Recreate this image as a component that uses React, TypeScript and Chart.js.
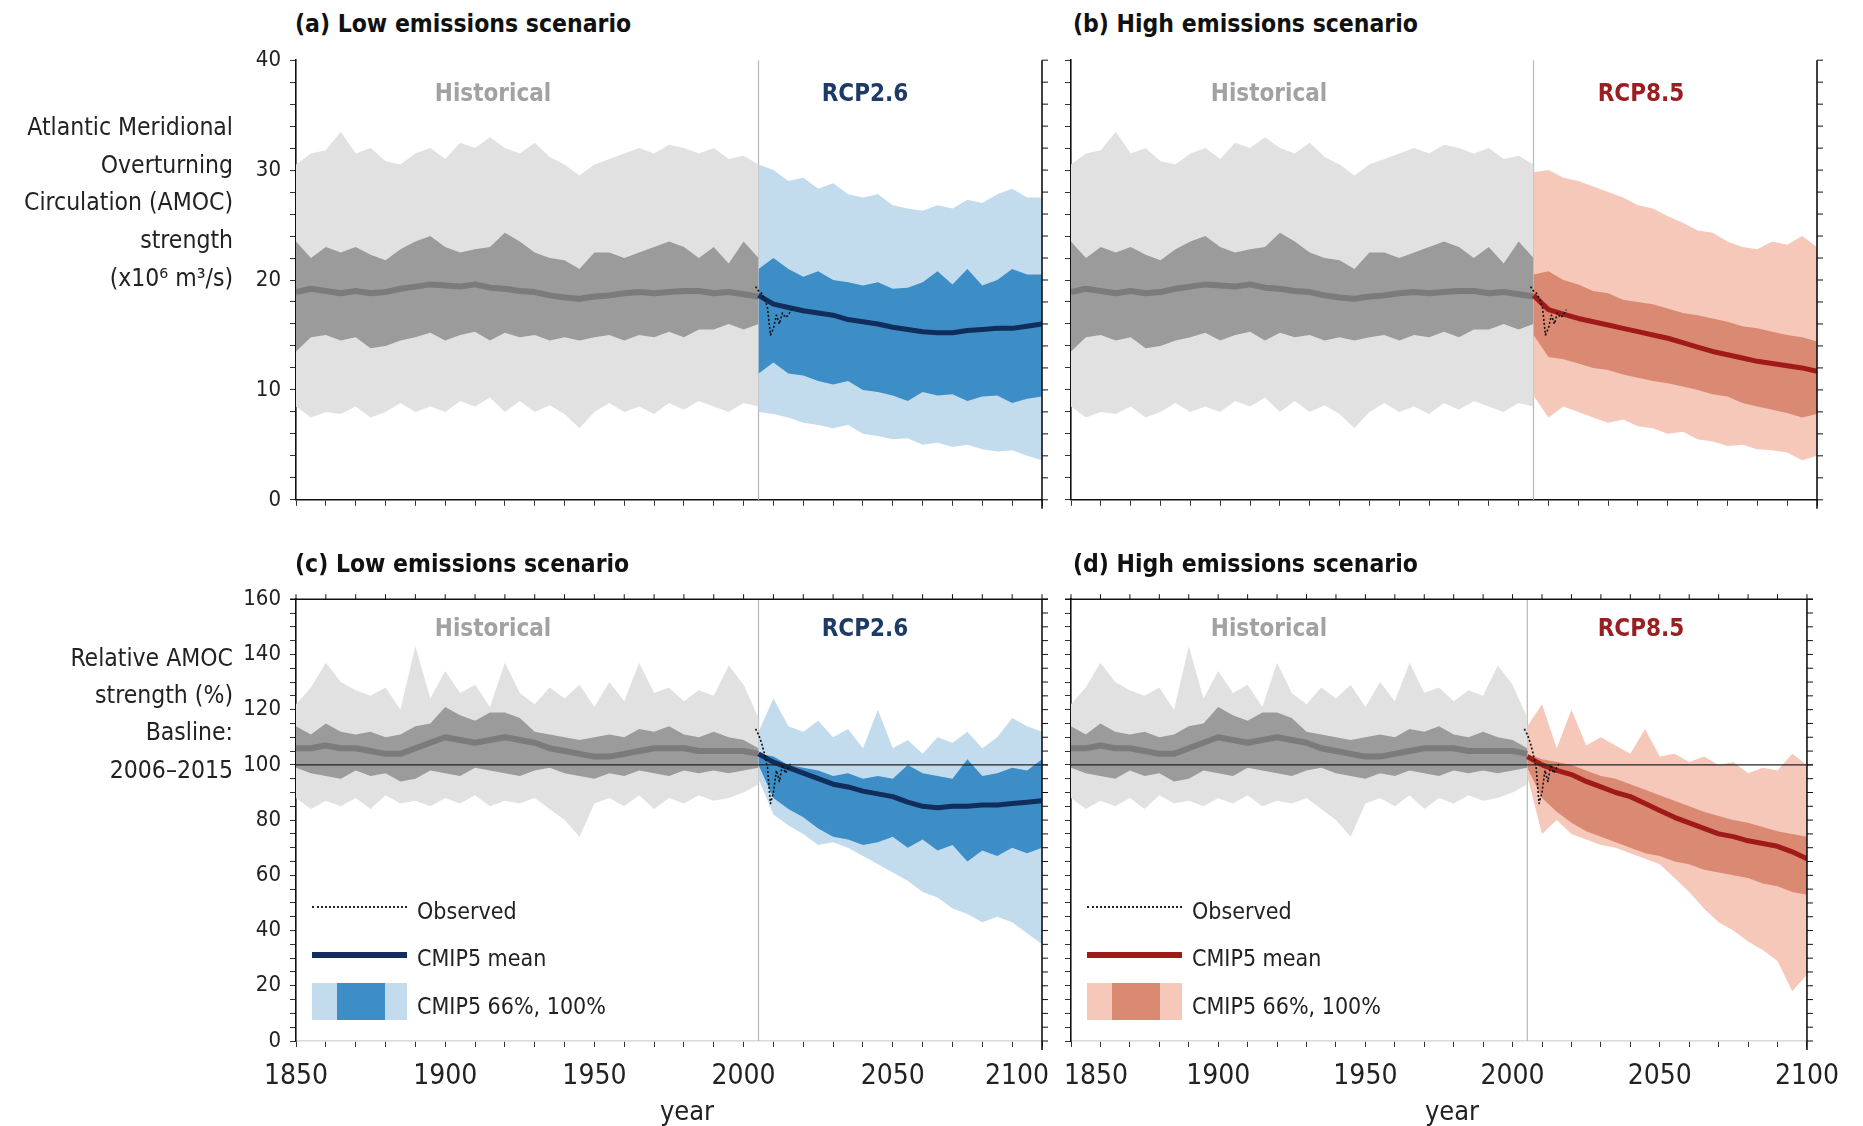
import React, { useEffect, useRef } from "react";
import { Chart, registerables } from "chart.js";
Chart.register(...registerables);

const FONT = '"Liberation Sans Narrow", "Arial Narrow", "DejaVu Sans Condensed", "Liberation Sans", sans-serif';

// ---------------- categories ----------------
const histYears = [1850, 1855, 1860, 1865, 1870, 1875, 1880, 1885, 1890, 1895, 1900, 1905, 1910, 1915, 1920, 1925, 1930, 1935, 1940, 1945, 1950, 1955, 1960, 1965, 1970, 1975, 1980, 1985, 1990, 1995, 2000, 2005];
const futYears = [2005, 2010, 2015, 2020, 2025, 2030, 2035, 2040, 2045, 2050, 2055, 2060, 2065, 2070, 2075, 2080, 2085, 2090, 2095, 2100];
const obsYears = [2004, 2005, 2006, 2007, 2008, 2009, 2010, 2011, 2012, 2013, 2014, 2015, 2016];
const xTickLabels = [1850, 1900, 1950, 2000, 2050, 2100];

// ---------------- historical, absolute (Sv) ----------------
const histAbsOuterHi = [30.5, 31.5, 31.8, 33.5, 31.5, 32.0, 30.8, 30.5, 31.5, 32.0, 31.0, 32.5, 32.0, 33.0, 32.0, 31.5, 32.5, 31.2, 30.5, 29.5, 30.5, 31.0, 31.5, 32.0, 31.5, 32.3, 32.0, 31.5, 32.0, 31.0, 31.3, 30.5];
const histAbsOuterLo = [8.5, 7.5, 8.0, 7.8, 8.5, 7.5, 8.0, 8.8, 8.0, 8.5, 8.0, 9.0, 8.5, 9.3, 8.0, 9.0, 8.0, 8.6, 7.8, 6.5, 8.0, 8.8, 8.0, 8.5, 7.8, 8.8, 8.2, 9.0, 8.5, 8.0, 8.8, 8.5];
const histAbsInnerHi = [23.5, 22.0, 23.0, 22.5, 23.0, 22.3, 21.8, 22.8, 23.5, 24.0, 23.0, 22.5, 22.8, 23.0, 24.3, 23.5, 22.5, 22.0, 21.8, 21.0, 22.5, 22.5, 22.0, 22.5, 23.0, 23.5, 23.0, 22.0, 23.0, 21.5, 23.5, 22.0];
const histAbsInnerLo = [13.5, 14.8, 15.0, 14.5, 14.8, 13.8, 14.0, 14.5, 14.8, 15.2, 14.5, 15.0, 15.3, 14.5, 15.2, 14.8, 15.0, 14.5, 14.8, 14.5, 14.8, 15.0, 14.5, 15.0, 14.8, 15.3, 14.8, 15.5, 15.5, 16.0, 15.5, 16.0];
const histAbsMean = [18.9, 19.2, 19.0, 18.8, 19.0, 18.8, 18.9, 19.2, 19.4, 19.6, 19.5, 19.4, 19.6, 19.3, 19.2, 19.0, 18.9, 18.6, 18.4, 18.3, 18.5, 18.6, 18.8, 18.9, 18.8, 18.9, 19.0, 19.0, 18.8, 18.9, 18.7, 18.5];

// ---------------- RCP2.6, absolute ----------------
const r26AbsOuterHi = [30.5, 30.0, 29.0, 29.3, 28.3, 28.8, 27.8, 27.5, 27.8, 26.8, 26.5, 26.3, 26.8, 26.5, 27.3, 27.0, 27.8, 28.3, 27.5, 27.5];
const r26AbsOuterLo = [8.0, 7.8, 7.5, 7.0, 6.8, 6.5, 6.8, 6.0, 5.8, 5.5, 5.6, 5.0, 5.2, 4.8, 5.0, 4.6, 4.4, 4.5, 4.0, 3.6];
const r26AbsInnerHi = [21.0, 22.0, 21.0, 20.3, 20.8, 20.0, 19.8, 19.5, 19.8, 19.2, 19.3, 19.8, 20.8, 19.6, 21.0, 19.5, 20.0, 21.0, 20.5, 20.5];
const r26AbsInnerLo = [11.5, 12.5, 11.5, 11.3, 10.8, 10.5, 10.8, 10.0, 9.8, 9.5, 9.0, 9.8, 9.5, 9.6, 9.0, 9.4, 9.5, 8.8, 9.2, 9.4];
const r26AbsMean = [18.6, 17.8, 17.5, 17.2, 17.0, 16.8, 16.4, 16.2, 16.0, 15.7, 15.5, 15.3, 15.2, 15.2, 15.4, 15.5, 15.6, 15.6, 15.8, 16.0];

// ---------------- RCP8.5, absolute ----------------
const r85AbsOuterHi = [29.8, 30.0, 29.3, 29.0, 28.5, 28.0, 27.5, 26.8, 26.5, 25.8, 25.2, 24.5, 24.3, 23.5, 23.0, 22.8, 23.5, 23.2, 24.0, 23.0];
const r85AbsOuterLo = [9.5, 7.5, 8.5, 8.0, 7.5, 7.0, 7.3, 6.7, 6.5, 6.0, 6.2, 5.5, 5.3, 4.9, 5.0, 4.6, 4.5, 4.3, 3.6, 4.0];
const r85AbsInnerHi = [20.5, 20.8, 20.0, 19.6, 19.0, 18.8, 18.2, 18.0, 17.8, 17.4, 17.0, 16.8, 16.5, 16.2, 15.8, 15.6, 15.3, 15.0, 14.8, 14.4];
const r85AbsInnerLo = [15.0, 13.0, 12.8, 12.4, 12.0, 11.8, 11.4, 11.1, 10.8, 10.6, 10.3, 10.0, 9.6, 9.4, 8.8, 8.5, 8.2, 7.9, 7.5, 7.8];
const r85AbsMean = [18.6, 17.3, 16.9, 16.5, 16.2, 15.9, 15.6, 15.3, 15.0, 14.7, 14.3, 13.9, 13.5, 13.2, 12.9, 12.6, 12.4, 12.2, 12.0, 11.7];

// ---------------- historical, relative (%) ----------------
const histRelOuterHi = [122, 128, 137, 130, 127, 125, 128, 120, 143, 124, 134, 126, 129, 121, 137, 126, 122, 128, 124, 129, 121, 130, 123, 137, 126, 128, 123, 127, 125, 136, 129, 117];
const histRelOuterLo = [88, 84, 87, 85, 88, 84, 89, 86, 87, 85, 88, 86, 89, 85, 87, 86, 88, 84, 80, 74, 86, 88, 85, 89, 84, 88, 86, 89, 87, 88, 90, 93];
const histRelInnerHi = [114, 111, 115, 112, 111, 112, 110, 111, 114, 115, 121, 118, 116, 119, 119, 117, 112, 111, 110, 109, 110, 111, 110, 113, 112, 114, 111, 110, 112, 110, 109, 106];
const histRelInnerLo = [99, 97, 96, 95, 98, 96, 97, 94, 95, 98, 97, 96, 99, 98, 97, 96, 98, 99, 97, 96, 95, 97, 96, 98, 97, 96, 98, 97, 98, 97, 98, 99];
const histRelMean = [106, 106, 107, 106, 106, 105, 104, 104, 106, 108, 110, 109, 108, 109, 110, 109, 108, 106, 105, 104, 103, 103, 104, 105, 106, 106, 106, 105, 105, 105, 105, 104];

// ---------------- RCP2.6, relative ----------------
const r26RelOuterHi = [112, 124, 114, 112, 116, 110, 113, 106, 120, 106, 109, 104, 110, 108, 112, 106, 110, 117, 114, 112];
const r26RelOuterLo = [95, 82, 78, 75, 71, 72, 70, 67, 64, 61, 58, 54, 52, 48, 46, 43, 45, 43, 39, 35];
const r26RelInnerHi = [104, 103, 100, 99, 98, 96, 97, 95, 96, 95, 100, 97, 96, 95, 102, 96, 97, 99, 98, 102];
const r26RelInnerLo = [100, 88, 84, 81, 77, 74, 73, 71, 72, 74, 70, 73, 69, 71, 65, 69, 67, 70, 68, 70];
const r26RelMean = [104, 101, 99, 97, 95, 93, 92, 90.5, 89.5, 88.5, 86.5, 85, 84.5, 85, 85, 85.5, 85.5, 86, 86.5, 87];

// ---------------- RCP8.5, relative ----------------
const r85RelOuterHi = [114, 122, 106, 120, 107, 110, 107, 104, 113, 103, 104, 101, 103, 100, 101, 97, 99, 98, 104, 100];
const r85RelOuterLo = [96, 75, 80, 75, 73, 71, 70, 68, 66, 64, 59, 54, 48, 43, 40, 36, 33, 29, 18, 24];
const r85RelInnerHi = [104, 102, 101, 100, 98, 96, 95, 93, 91, 89, 87, 85, 83, 81.5, 80, 79, 77.5, 76, 75, 74];
const r85RelInnerLo = [99, 88, 83, 79, 76, 74, 72, 70, 68, 67, 65, 64, 62, 61, 60, 59, 57, 56, 54, 53];
const r85RelMean = [103, 100, 98, 96.5, 94, 92, 90, 88.5, 86, 83.5, 81, 79, 77, 75, 74, 72.5, 71.5, 70.5, 68.5, 66];

// ---------------- observed ----------------
const obsAbs = [19.4, 19.0, 18.8, 18.3, 17.5, 15.0, 15.6, 16.8, 16.0, 17.0, 16.6, 16.8, 17.3];
const obsRel = [113, 111, 108, 104, 99, 86, 90, 98, 94, 100, 97, 99, 101];

const SPLIT_YEAR = 2005;

const C = {
  histOuter: "#e1e1e1",
  histInner: "#9b9b9b",
  histMean: "#7b7b7b",
  r26Outer: "#c2dcee",
  r26Inner: "#3d8dc6",
  r26Mean: "#102d5c",
  r85Outer: "#f6c8ba",
  r85Inner: "#da8a73",
  r85Mean: "#a11a1a",
  r26Text: "#1e3a66",
  r85Text: "#9a1f22",
  histText: "#a2a2a2",
};

type Band = { outerLo: number[]; outerHi: number[]; innerLo: number[]; innerHi: number[]; mean: number[] };

interface PanelSpec {
  id: string;
  left: number; right: number; top: number; bottom: number;
  yMin: number; yMax: number; yStep: number; yMajor: number;
  showYLabels: boolean; showXLabels: boolean;
  hist: Band; fut: Band; obs: number[];
  futOuter: string; futInner: string; futMean: string;
  refLine: number | null;
  topLine: boolean;
  bottomBorder: string;
  edge: { value: number; shift: number } | null;
}

const HIST_ABS: Band = { outerLo: histAbsOuterLo, outerHi: histAbsOuterHi, innerLo: histAbsInnerLo, innerHi: histAbsInnerHi, mean: histAbsMean };
const HIST_REL: Band = { outerLo: histRelOuterLo, outerHi: histRelOuterHi, innerLo: histRelInnerLo, innerHi: histRelInnerHi, mean: histRelMean };
const R26_ABS: Band = { outerLo: r26AbsOuterLo, outerHi: r26AbsOuterHi, innerLo: r26AbsInnerLo, innerHi: r26AbsInnerHi, mean: r26AbsMean };
const R85_ABS: Band = { outerLo: r85AbsOuterLo, outerHi: r85AbsOuterHi, innerLo: r85AbsInnerLo, innerHi: r85AbsInnerHi, mean: r85AbsMean };
const R26_REL: Band = { outerLo: r26RelOuterLo, outerHi: r26RelOuterHi, innerLo: r26RelInnerLo, innerHi: r26RelInnerHi, mean: r26RelMean };
const R85_REL: Band = { outerLo: r85RelOuterLo, outerHi: r85RelOuterHi, innerLo: r85RelInnerLo, innerHi: r85RelInnerHi, mean: r85RelMean };

const LX = [296, 1042];
const RX = [1071, 1817];
const TY = [53, 502];
const BY = [592, 1041];

const PANELS: PanelSpec[] = [
  { id: "a", left: LX[0], right: LX[1], top: TY[0], bottom: TY[1], yMin: 0, yMax: 40, yStep: 2, yMajor: 10, showYLabels: true, showXLabels: false, hist: HIST_ABS, fut: R26_ABS, obs: obsAbs, futOuter: C.r26Outer, futInner: C.r26Inner, futMean: C.r26Mean, refLine: null, topLine: false, bottomBorder: "#111", edge: null },
  { id: "b", left: RX[0], right: RX[1], top: TY[0], bottom: TY[1], yMin: 0, yMax: 40, yStep: 2, yMajor: 10, showYLabels: false, showXLabels: false, hist: HIST_ABS, fut: R85_ABS, obs: obsAbs, futOuter: C.r85Outer, futInner: C.r85Inner, futMean: C.r85Mean, refLine: null, topLine: false, bottomBorder: "#111", edge: null },
  { id: "c", left: LX[0], right: LX[1], top: BY[0], bottom: BY[1], yMin: 0, yMax: 160, yStep: 5, yMajor: 20, showYLabels: true, showXLabels: true, hist: HIST_REL, fut: R26_REL, obs: obsRel, futOuter: C.r26Outer, futInner: C.r26Inner, futMean: C.r26Mean, refLine: 100, topLine: true, bottomBorder: "#dadada", edge: { value: 2100, shift: -25 } },
  { id: "d", left: RX[0], right: RX[1], top: BY[0], bottom: BY[1], yMin: 0, yMax: 160, yStep: 5, yMajor: 20, showYLabels: false, showXLabels: true, hist: HIST_REL, fut: R85_REL, obs: obsRel, futOuter: C.r85Outer, futInner: C.r85Inner, futMean: C.r85Mean, refLine: 100, topLine: true, bottomBorder: "#dadada", edge: { value: 1850, shift: 25 } },
];

const Y_AXIS_W = 90;
const PAD_T = 15;
const PAD_R = 35;
const X_TICK_LEN = 6;
const X_TICK_PAD = 13;
const X_FONT = 28;
const Y_FONT = 22;

function pts(xs: number[], ys: number[]) {
  return xs.map((x, i) => ({ x, y: ys[i] }));
}

function bandDs(xs: number[], ys: number[], order: number, fill: any, color: string) {
  return {
    data: pts(xs, ys),
    borderWidth: 0,
    borderColor: "rgba(0,0,0,0)",
    backgroundColor: color,
    pointRadius: 0,
    fill,
    order,
    tension: 0,
  };
}

function lineDs(xs: number[], ys: number[], order: number, color: string, width: number, dash: number[] = []) {
  return {
    data: pts(xs, ys),
    borderWidth: width,
    borderColor: color,
    backgroundColor: color,
    borderDash: dash,
    pointRadius: 0,
    fill: false,
    order,
    tension: 0,
    borderJoinStyle: "round" as const,
  };
}

function makePlugin(spec: PanelSpec) {
  return {
    id: "frame_" + spec.id,
    beforeDatasetsDraw(chart: any) {
      const { ctx, chartArea: a } = chart;
      const px = chart.scales.x.getPixelForValue(SPLIT_YEAR);
      ctx.save();
      ctx.strokeStyle = "#b8b8b8";
      ctx.lineWidth = 1.2;
      ctx.beginPath();
      ctx.moveTo(px, a.top);
      ctx.lineTo(px, a.bottom);
      ctx.stroke();
      ctx.restore();
    },
    afterDatasetsDraw(chart: any) {
      const { ctx, chartArea: a } = chart;
      const xs = chart.scales.x;
      const ys = chart.scales.y;
      ctx.save();
      ctx.strokeStyle = "#111";
      ctx.lineWidth = 1.6;
      ctx.beginPath();
      ctx.moveTo(a.right, a.top);
      ctx.lineTo(a.right, a.bottom + 9);
      ctx.stroke();
      ctx.lineWidth = 1;
      ys.ticks.forEach((t: any) => {
        const py = ys.getPixelForValue(t.value);
        ctx.beginPath();
        ctx.moveTo(a.right, py);
        ctx.lineTo(a.right + 6, py);
        ctx.stroke();
      });
      if (spec.topLine) {
        ctx.lineWidth = 1.6;
        ctx.beginPath();
        ctx.moveTo(a.left - 6, a.top);
        ctx.lineTo(a.right + 6, a.top);
        ctx.stroke();
        ctx.lineWidth = 1;
        xs.ticks.forEach((t: any) => {
          const px = xs.getPixelForValue(t.value);
          ctx.beginPath();
          ctx.moveTo(px, a.top);
          ctx.lineTo(px, a.top - 5);
          ctx.stroke();
        });
      }
      if (spec.refLine !== null) {
        const py = ys.getPixelForValue(spec.refLine);
        ctx.strokeStyle = "#222";
        ctx.lineWidth = 1.2;
        ctx.beginPath();
        ctx.moveTo(a.left, py);
        ctx.lineTo(a.right + 6, py);
        ctx.stroke();
      }
      ctx.restore();
    },
    afterDraw(chart: any) {
      if (!spec.edge) return;
      const { ctx } = chart;
      const xs = chart.scales.x;
      const px = xs.getPixelForValue(spec.edge.value) + spec.edge.shift;
      const py = xs.top + X_TICK_LEN + X_TICK_PAD + (X_FONT * 1.2) / 2;
      ctx.save();
      ctx.fillStyle = "#222";
      ctx.font = `${X_FONT}px ${FONT}`;
      ctx.textAlign = "center";
      ctx.textBaseline = "middle";
      ctx.fillText(String(spec.edge.value), px, py);
      ctx.restore();
    },
  };
}

function Panel({ spec }: { spec: PanelSpec }) {
  const ref = useRef<HTMLCanvasElement>(null);
  const xh = spec.showXLabels ? 62 : 20;
  const cw = spec.right - spec.left + Y_AXIS_W + PAD_R;
  const ch = spec.bottom - spec.top + PAD_T + xh;
  useEffect(() => {
    const h = spec.hist;
    const f = spec.fut;
    const chart = new Chart(ref.current as HTMLCanvasElement, {
      type: "line",
      data: {
        datasets: [
          bandDs(histYears, h.outerLo, 10, false, C.histOuter),
          bandDs(histYears, h.outerHi, 9, "-1", C.histOuter),
          bandDs(histYears, h.innerLo, 8, false, C.histInner),
          bandDs(histYears, h.innerHi, 7, "-1", C.histInner),
          bandDs(futYears, f.outerLo, 6, false, spec.futOuter),
          bandDs(futYears, f.outerHi, 5, "-1", spec.futOuter),
          bandDs(futYears, f.innerLo, 4, false, spec.futInner),
          bandDs(futYears, f.innerHi, 3, "-1", spec.futInner),
          lineDs(histYears, h.mean, 2, C.histMean, 6),
          lineDs(futYears, f.mean, 1, spec.futMean, 5),
          lineDs(obsYears, spec.obs, 0, "#111", 1.6, [2, 2]),
        ] as any,
      },
      options: {
        responsive: false,
        animation: false,
        events: [],
        layout: { padding: { left: 0, right: PAD_R, top: PAD_T, bottom: 0 } },
        plugins: { legend: { display: false }, tooltip: { enabled: false }, title: { display: false } },
        scales: {
          x: {
            type: "linear",
            min: 1850,
            max: 2100,
            ticks: {
              stepSize: 10,
              autoSkip: false,
              maxRotation: 0,
              minRotation: 0,
              padding: X_TICK_PAD,
              color: "#222",
              font: { family: FONT, size: X_FONT },
              callback: (v: any) => {
                const n = Math.round(Number(v));
                if (!spec.showXLabels) return "";
                if (spec.edge && spec.edge.value === n) return "";
                return xTickLabels.includes(n) ? String(n) : "";
              },
            },
            grid: { drawOnChartArea: false, drawTicks: true, tickLength: X_TICK_LEN, color: "#333", lineWidth: 1 },
            border: { display: true, color: spec.bottomBorder, width: 1.6 },
            afterFit: (s: any) => { s.height = xh; },
          },
          y: {
            type: "linear",
            min: spec.yMin,
            max: spec.yMax,
            ticks: {
              stepSize: spec.yStep,
              autoSkip: false,
              padding: 9,
              color: "#222",
              font: { family: FONT, size: Y_FONT },
              callback: (v: any) => {
                const n = Math.round(Number(v));
                if (!spec.showYLabels) return "";
                return n % spec.yMajor === 0 ? String(n) : "";
              },
            },
            grid: { drawOnChartArea: false, drawTicks: true, tickLength: 6, color: "#333", lineWidth: 1 },
            border: { display: true, color: "#111", width: 1.6 },
            afterFit: (s: any) => { s.width = Y_AXIS_W; },
          },
        },
      } as any,
      plugins: [makePlugin(spec)],
    });
    return () => chart.destroy();
  }, []);
  return (
    <canvas
      ref={ref}
      width={cw}
      height={ch}
      style={{ position: "absolute", left: spec.left - Y_AXIS_W, top: spec.top - PAD_T, width: cw, height: ch }}
    />
  );
}

function T(props: { x: number; y: number; text: string; size?: number; weight?: number; color?: string; align?: "left" | "center" | "right" }) {
  const { x, y, text, size = 26, weight = 400, color = "#222", align = "left" } = props;
  const tx = align === "left" ? "0" : align === "center" ? "-50%" : "-100%";
  return (
    <div
      style={{
        position: "absolute",
        left: x,
        top: y,
        transform: `translate(${tx}, -50%)`,
        fontFamily: FONT,
        fontSize: size,
        fontWeight: weight,
        color,
        whiteSpace: "nowrap",
        lineHeight: 1,
      }}
    >
      {text}
    </div>
  );
}

function Legend({ ox, outer, inner, mean }: { ox: number; outer: string; inner: string; mean: string }) {
  return (
    <>
      <div style={{ position: "absolute", left: 312 + ox, top: 906, width: 95, height: 0, borderTop: "2px dotted #222" }} />
      <T x={417 + ox} y={911} text="Observed" size={23} />
      <div style={{ position: "absolute", left: 312 + ox, top: 952, width: 95, height: 6, background: mean }} />
      <T x={417 + ox} y={958} text="CMIP5 mean" size={23} />
      <div style={{ position: "absolute", left: 312 + ox, top: 983, width: 95, height: 37, background: outer }} />
      <div style={{ position: "absolute", left: 337 + ox, top: 983, width: 48, height: 37, background: inner }} />
      <T x={417 + ox} y={1006} text="CMIP5 66%, 100%" size={23} />
    </>
  );
}

export default function App() {
  const TS = 24.5;
  const LS = 24;
  const YS = 24.5;
  return (
    <div style={{ position: "absolute", left: 0, top: 0, width: 1863, height: 1126, background: "#fff", overflow: "hidden" }}>
      {PANELS.map((p) => (
        <Panel key={p.id} spec={p} />
      ))}
      <T x={295} y={24} text="(a) Low emissions scenario" size={TS} weight={700} color="#111" />
      <T x={1073} y={24} text="(b) High emissions scenario" size={TS} weight={700} color="#111" />
      <T x={295} y={564} text="(c) Low emissions scenario" size={TS} weight={700} color="#111" />
      <T x={1073} y={564} text="(d) High emissions scenario" size={TS} weight={700} color="#111" />

      <T x={493} y={93} text="Historical" size={LS} weight={700} color={C.histText} align="center" />
      <T x={865} y={93} text="RCP2.6" size={LS} weight={700} color={C.r26Text} align="center" />
      <T x={1269} y={93} text="Historical" size={LS} weight={700} color={C.histText} align="center" />
      <T x={1641} y={93} text="RCP8.5" size={LS} weight={700} color={C.r85Text} align="center" />
      <T x={493} y={628} text="Historical" size={LS} weight={700} color={C.histText} align="center" />
      <T x={865} y={628} text="RCP2.6" size={LS} weight={700} color={C.r26Text} align="center" />
      <T x={1269} y={628} text="Historical" size={LS} weight={700} color={C.histText} align="center" />
      <T x={1641} y={628} text="RCP8.5" size={LS} weight={700} color={C.r85Text} align="center" />

      <T x={233} y={127} text="Atlantic Meridional" size={YS} align="right" />
      <T x={233} y={165} text="Overturning" size={YS} align="right" />
      <T x={233} y={202} text="Circulation (AMOC)" size={YS} align="right" />
      <T x={233} y={240} text="strength" size={YS} align="right" />
      <T x={233} y={278} text="(x10⁶ m³/s)" size={YS} align="right" />

      <T x={233} y={658} text="Relative AMOC" size={YS} align="right" />
      <T x={233} y={695} text="strength (%)" size={YS} align="right" />
      <T x={233} y={732} text="Basline:" size={YS} align="right" />
      <T x={233} y={770} text="2006–2015" size={YS} align="right" />

      <T x={687} y={1110} text="year" size={27} align="center" />
      <T x={1452} y={1110} text="year" size={27} align="center" />

      <Legend ox={0} outer={C.r26Outer} inner={C.r26Inner} mean={C.r26Mean} />
      <Legend ox={775} outer={C.r85Outer} inner={C.r85Inner} mean={C.r85Mean} />
    </div>
  );
}
